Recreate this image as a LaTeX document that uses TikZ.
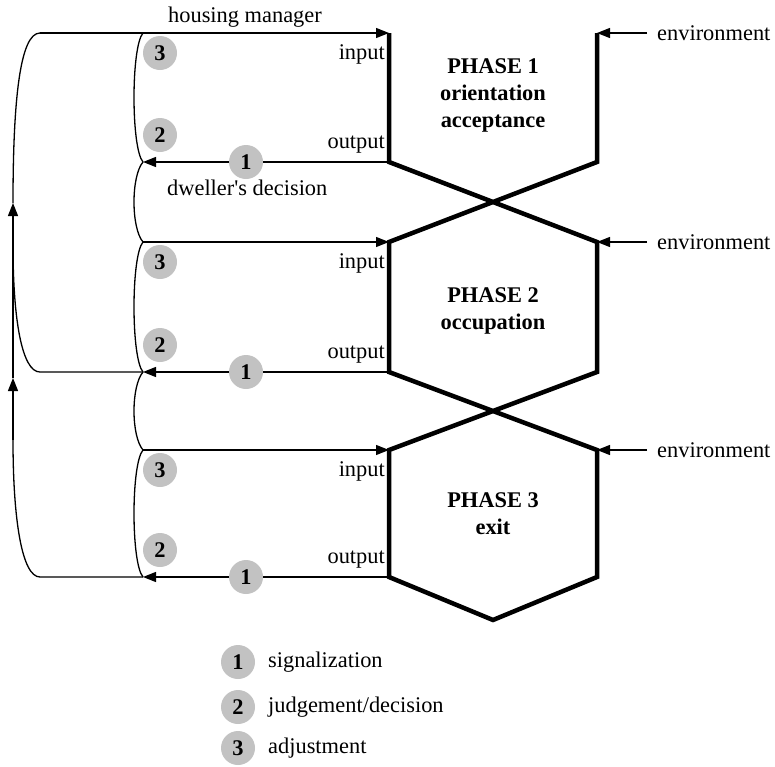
\documentclass[tikz,border=0pt]{standalone}
\usepackage{fontspec}
\setmainfont{Liberation Serif}
\usetikzlibrary{arrows.meta}

\newcommand{\diafont}{\fontsize{22.4}{27}\selectfont}

\tikzset{
  thinline/.style={line width=1.3pt},
  wall/.style={line width=4.5pt, line join=miter},
  arr/.style={thinline, -{Triangle[length=13pt,width=10pt]}},
  lab/.style={inner sep=0pt, font=\diafont},
  phase/.style={inner sep=0pt, align=center, font=\diafont\bfseries},
  num/.style={circle, fill=black!24, minimum size=34pt, inner sep=0pt, font=\diafont\bfseries}
}

\begin{document}
\begin{tikzpicture}[x=1pt, y=-1pt]

\useasboundingbox (0,0) rectangle (775,766);

\foreach \i/\yin/\yout/\ym/\txt in {1/33/162/95/{PHASE 1\\orientation\\acceptance},
                                   2/242/372/311/{PHASE 2\\occupation},
                                   3/450/577/514/{PHASE 3\\exit}} {
  \coordinate (in\i) at (389,\yin);
  \coordinate (out\i) at (389,\yout);
  \coordinate (rt\i) at (597,\yin);
  \coordinate (rb\i) at (597,\yout);
  \coordinate (jin\i) at (143,\yin);
  \coordinate (jout\i) at (143,\yout);

  \draw[arr] (jin\i) -- (in\i);
  \draw[arr] (out\i) -- (jout\i);
  \draw[thinline] (jin\i) .. controls (131,\yin+14) and (131,\yout-14) .. (jout\i);

  \node[lab, anchor=base east] (inlab\i) at (385,\yin+26) {input};
  \node[lab, anchor=base east] (outlab\i) at (385,\yout-14) {output};
  \node[lab, anchor=west, inner xsep=10pt] (env\i) at (647,\yin) {environment};
  \draw[arr] (env\i.west) -- (rt\i);

  \node[phase] (ph\i) at (493,\ym) {\txt};

  \node[num] (sig\i) at (246,\yout) {1};
  \node[num] (jud\i) at (160,\yout-27) {2};
  \node[num] (adj\i) at (160,\yin+20) {3};
}

\coordinate (bot) at (493,620);
\draw[wall] (rt1) -- (rb1) -- (in2) -- (out2) -- (rt3) -- (rb3) -- (bot)
  -- (out3) -- (in3) -- (rb2) -- (rt2) -- (out1) -- (in1);

\draw[thinline] (jout1) .. controls (131,176) and (131,228) .. (jin2);
\draw[thinline] (jout2) .. controls (131,386) and (131,436) .. (jin3);

\coordinate (k1) at (40,33);
\coordinate (k2) at (40,372);
\coordinate (k3) at (40,577);
\coordinate (a1) at (13,203);
\coordinate (a2) at (13,378);
\coordinate (m2) at (13,245);
\coordinate (m3) at (13,440);

\draw[thinline] (k1) -- (jin1);
\draw[thinline] (a1) .. controls (13,100) and (20,33) .. (k1);
\draw[thinline] (jout2) -- (k2) .. controls (22,372) and (13,320) .. (m2);
\draw[thinline] (jout3) -- (k3) .. controls (22,577) and (13,520) .. (m3);
\draw[arr] (m3) -- (a2);
\draw[arr] (a2) -- (a1);

\node[lab, anchor=base] (hm) at (245,22) {housing manager};
\node[lab, anchor=base west] (dd) at (167,195) {dweller\textquotesingle s decision};

\node[num] (l1) at (238,662) {1};
\node[num] (l2) at (238,707) {2};
\node[num] (l3) at (238,748) {3};
\node[lab, anchor=base west] (lt1) at (268,667) {signalization};
\node[lab, anchor=base west] (lt2) at (268,712) {judgement/decision};
\node[lab, anchor=base west] (lt3) at (268,753) {adjustment};

\end{tikzpicture}
\end{document}
